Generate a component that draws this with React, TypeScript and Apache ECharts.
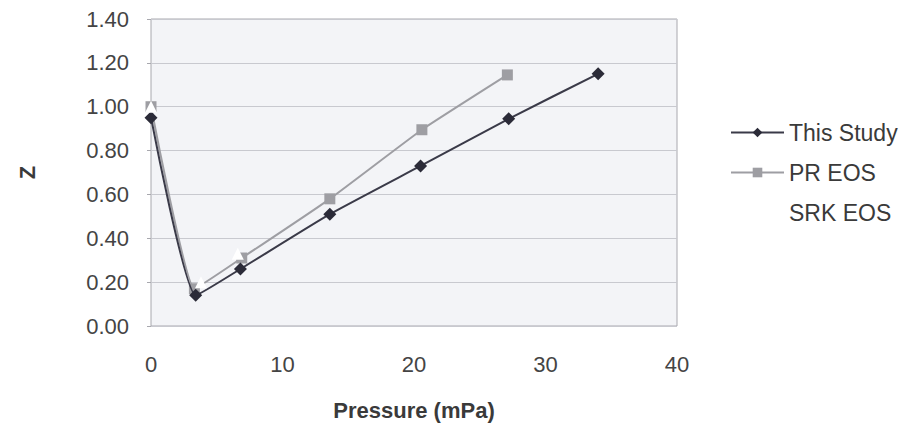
import React, { useEffect, useRef } from "react";
import * as echarts from "echarts";

const xTicks = [0, 10, 20, 30, 40];
const yTicks = ["0.00", "0.20", "0.40", "0.60", "0.80", "1.00", "1.20", "1.40"];

const thisStudyP = [0, 3.4, 6.8, 13.6, 20.5, 27.2, 34.0];
const thisStudyZ = [0.95, 0.14, 0.26, 0.51, 0.73, 0.945, 1.15];

const prP = [0, 3.3, 6.9, 13.6, 20.6, 27.1];
const prZ = [1.0, 0.17, 0.31, 0.58, 0.895, 1.145];

const srkP = [0, 3.8, 6.6];
const srkZ = [1.0, 0.2, 0.33];

const seriesNames = ["This Study", "PR EOS", "SRK EOS"];

const FONT = "Liberation Sans, Arial, sans-serif";

export default function App() {
  const ref = useRef<HTMLDivElement>(null);
  useEffect(() => {
    if (!ref.current) return;
    const chart = echarts.init(ref.current, undefined, { renderer: "svg" });
    const zip = (xs: number[], ys: number[]) => xs.map((x, i) => [x, ys[i]]);
    chart.setOption({
      animation: false,
      backgroundColor: "#ffffff",
      textStyle: { fontFamily: FONT },
      grid: {
        left: 142,
        right: 231,
        top: 11,
        bottom: 102,
        show: true,
        backgroundColor: "#f3f4f7",
        borderColor: "#a8a8ae",
        borderWidth: 1,
      },
      legend: {
        orient: "vertical",
        left: 717,
        top: 108,
        itemWidth: 53,
        itemHeight: 12,
        itemGap: 17,
        textStyle: { fontSize: 23, color: "#3a3a3a", fontFamily: FONT },
        data: seriesNames,
      },
      xAxis: {
        type: "value",
        min: 0,
        max: xTicks[xTicks.length - 1],
        interval: 10,
        name: "Pressure (mPa)",
        nameLocation: "middle",
        nameGap: 73,
        nameTextStyle: { fontSize: 22, fontWeight: "bold", color: "#3a3a3a", fontFamily: FONT },
        axisLine: { show: false },
        axisTick: { show: false },
        splitLine: { show: false },
        axisLabel: { fontSize: 22, color: "#444", margin: 27, fontFamily: FONT },
      },
      yAxis: {
        type: "value",
        min: 0,
        max: 1.4,
        interval: 0.2,
        name: "Z",
        nameLocation: "middle",
        nameRotate: 90,
        nameGap: 113,
        nameTextStyle: { fontSize: 22, fontWeight: "bold", color: "#3a3a3a", fontFamily: FONT },
        axisLine: { show: false },
        axisTick: { show: true, length: 4, lineStyle: { color: "#a8a8ae" } },
        splitLine: { show: true, lineStyle: { color: "#c8c9cf", width: 1 } },
        axisLabel: {
          fontSize: 22,
          color: "#444",
          margin: 22,
          fontFamily: FONT,
          formatter: (v: number) => yTicks[Math.round(v / 0.2)] ?? v.toFixed(2),
        },
      },
      series: [
        {
          name: seriesNames[0],
          type: "line",
          data: zip(thisStudyP, thisStudyZ),
          symbol: "diamond",
          symbolSize: 13,
          smooth: 0.15,
          itemStyle: { color: "#2b2b38" },
          lineStyle: { color: "#3a3a48", width: 2 },
          z: 3,
        },
        {
          name: seriesNames[1],
          type: "line",
          data: zip(prP, prZ),
          symbol: "rect",
          symbolSize: 11,
          smooth: 0.12,
          itemStyle: { color: "#9e9ea3" },
          lineStyle: { color: "#9e9ea3", width: 2 },
          z: 2,
        },
        {
          name: seriesNames[2],
          type: "line",
          data: zip(srkP, srkZ),
          symbol: "triangle",
          symbolSize: 12,
          itemStyle: { color: "#ffffff" },
          lineStyle: { color: "#ffffff", width: 0, opacity: 0 },
          z: 4,
        },
      ],
    });
    return () => chart.dispose();
  }, []);
  return <div ref={ref} style={{ width: 900, height: 420 }} />;
}
